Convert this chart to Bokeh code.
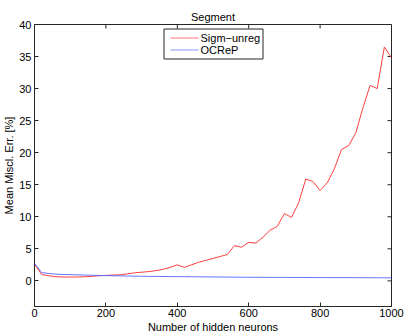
from bokeh.plotting import figure
from bokeh.models import Range1d, FixedTicker
from bokeh.core.properties import value
from bokeh.embed import file_html
from bokeh.resources import INLINE

neurons = [0, 20, 40, 60, 80, 100, 120, 140, 160, 180, 200, 220, 240, 260, 280, 300,
           320, 340, 360, 380, 400, 420, 440, 460, 480, 500, 520, 540, 560, 580, 600,
           620, 640, 660, 680, 700, 720, 740, 760, 780, 800, 820, 840, 860, 880, 900,
           920, 940, 960, 980, 1000]
sigm_unreg = [2.6, 1.0, 0.8, 0.65, 0.6, 0.6, 0.6, 0.65, 0.7, 0.8, 0.85, 0.9, 0.95, 1.1,
              1.25, 1.35, 1.45, 1.6, 1.8, 2.1, 2.5, 2.1, 2.5, 2.9, 3.2, 3.5, 3.8, 4.1,
              5.5, 5.25, 6.0, 5.9, 6.8, 7.9, 8.5, 10.5, 9.9, 12.2, 15.9, 15.5, 14.1,
              15.3, 17.5, 20.5, 21.1, 23.1, 27.0, 30.5, 30.0, 36.5, 34.8]
ocrep = [2.75, 1.3, 1.15, 1.05, 1.0, 0.97, 0.94, 0.91, 0.88, 0.85, 0.82, 0.80, 0.78,
         0.76, 0.74, 0.72, 0.70, 0.69, 0.68, 0.67, 0.66, 0.65, 0.64, 0.63, 0.62, 0.61,
         0.60, 0.59, 0.58, 0.57, 0.56, 0.56, 0.55, 0.55, 0.54, 0.54, 0.53, 0.53, 0.52,
         0.52, 0.51, 0.51, 0.50, 0.50, 0.50, 0.49, 0.49, 0.49, 0.48, 0.48, 0.48]
series_labels = ["Sigm\u2212unreg", "OCReP"]
x_ticks = [0, 200, 400, 600, 800, 1000]
y_ticks = [0, 5, 10, 15, 20, 25, 30, 35, 40]

X_MIN, X_MAX, Y_MIN, Y_MAX = 0, 1000, -4, 40
FONT = "Liberation Sans"
AX = "#262626"
RED = "#ff2a2a"
BLUE = "#5064ff"
SWATCH_RED = "#ff7070"
SWATCH_BLUE = "#8a98ff"
series_colors = [RED, BLUE]
swatch_colors = [SWATCH_RED, SWATCH_BLUE]

W, H = 407, 336
BL, BR, BT, BB = 34, 16, 24, 30
FRAME_W, FRAME_H = W - BL - BR, H - BT - BB

p = figure(width=W, height=H, output_backend="svg", toolbar_location=None,
           x_range=Range1d(X_MIN, X_MAX), y_range=Range1d(Y_MIN, Y_MAX), title="Segment",
           min_border_left=BL, min_border_right=BR, min_border_top=BT,
           min_border_bottom=BB)
p.background_fill_color = "white"
p.border_fill_color = "white"
p.outline_line_color = AX
p.outline_line_width = 1
p.grid.visible = False

p.title.align = "center"
p.title.text_font = FONT
p.title.text_font_size = "11px"
p.title.text_font_style = "normal"
p.title.text_color = "black"
p.title.standoff = 4
p.title.offset = 0

for ax, ticks in ((p.xaxis[0], x_ticks), (p.yaxis[0], y_ticks)):
    ax.ticker = FixedTicker(ticks=ticks)
    ax.axis_line_color = AX
    ax.major_tick_line_color = AX
    ax.major_tick_in = 4
    ax.major_tick_out = 0
    ax.minor_tick_line_color = None
    ax.major_label_text_font = FONT
    ax.major_label_text_font_size = "11px"
    ax.major_label_text_color = "black"
    ax.major_label_standoff = 2
    ax.axis_label_text_font = FONT
    ax.axis_label_text_font_size = "11px"
    ax.axis_label_text_font_style = "normal"
    ax.axis_label_text_color = "black"
    ax.axis_label_standoff = 1
p.xaxis.axis_label = "Number of hidden neurons"
p.yaxis.axis_label = "Mean Miscl. Err. [%]"
p.yaxis[0].major_label_standoff = 3


def px_x(px):
    return X_MIN + px * (X_MAX - X_MIN) / FRAME_W


def px_y(py):
    return Y_MAX - py * (Y_MAX - Y_MIN) / FRAME_H


# inward ticks on the top and right edges of the box (4px long)
p.segment(x0=x_ticks, y0=[Y_MAX] * len(x_ticks), x1=x_ticks,
          y1=[px_y(4)] * len(x_ticks), line_color=AX, line_width=1)
p.segment(x0=[X_MAX] * len(y_ticks), y0=y_ticks, x1=[px_x(FRAME_W - 4)] * len(y_ticks),
          y1=y_ticks, line_color=AX, line_width=1)

p.line(neurons, sigm_unreg, line_color=RED, line_width=0.9)
p.line(neurons, ocrep, line_color=BLUE, line_width=0.9)

# legend box (MATLAB style), placed in pixel offsets from the frame's top-left
box_l, box_r, box_t, box_b = 129.5, 228.5, 4.5, 34.5
rows = [13, 25]
p.quad(left=[px_x(box_l)], right=[px_x(box_r)], top=[px_y(box_t)],
       bottom=[px_y(box_b)], fill_color="white", line_color=AX, line_width=1)
for row, color in zip(rows, swatch_colors):
    p.quad(left=[px_x(136)], right=[px_x(164)], top=[px_y(row)],
           bottom=[px_y(row + 1)], fill_color=color, line_color=None)
p.text(x=[px_x(166)] * 2, y=[px_y(r + 0.5) for r in rows], text=series_labels,
       text_font=value(FONT), text_font_size="11px", text_color="black",
       text_align="left", text_baseline="middle")

open("out.html", "w").write(file_html(p, INLINE))
